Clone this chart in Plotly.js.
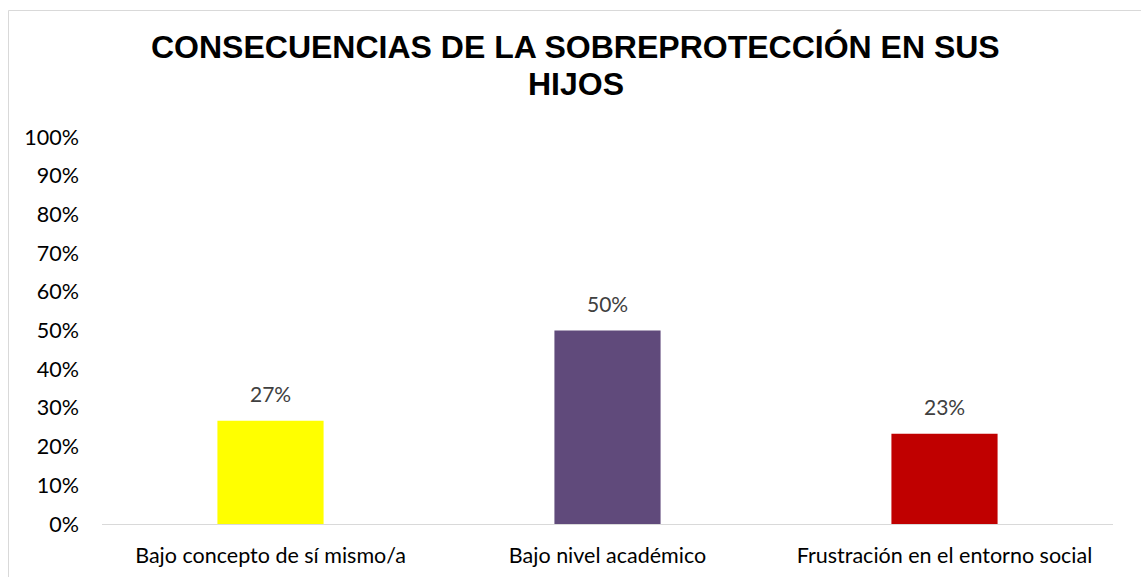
<!DOCTYPE html>
<html>
<head>
<meta charset="utf-8">
<script src="https://cdn.plot.ly/plotly-3.0.1.min.js"></script>
<style>
  html, body { margin: 0; padding: 0; background: #fff; }
  #chart { width: 1141px; height: 577px; }
</style>
</head>
<body>
<div id="chart"></div>
<script>
const categories = ["Bajo concepto de sí mismo/a", "Bajo nivel académico", "Frustración en el entorno social"];
const values = [0.2667, 0.50, 0.2333];
const valueLabels = ["27%", "50%", "23%"];
const barColors = ["#FFFF00", "#604A7B", "#C00000"];
const yTickVals = [0, 0.1, 0.2, 0.3, 0.4, 0.5, 0.6, 0.7, 0.8, 0.9, 1.0];
const yTickText = ["0%", "10%", "20%", "30%", "40%", "50%", "60%", "70%", "80%", "90%", "100%"];
const titleLines = ["CONSECUENCIAS DE LA SOBREPROTECCIÓN EN SUS", "HIJOS"];

const labelFont = "Lato, 'Open Sans', sans-serif";
const titleFont = { family: "'Liberation Sans', Arial, sans-serif", size: 32, color: "#000000", weight: "bold" };

const trace = {
  type: "bar",
  x: categories,
  y: values,
  marker: { color: barColors },
  width: 0.315,
  hoverinfo: "none"
};

const annotations = categories.map((c, i) => ({
  x: c, y: values[i], xref: "x", yref: "y",
  text: valueLabels[i], showarrow: false,
  yanchor: "bottom", yshift: 13,
  font: { family: labelFont, size: 21, color: "#404040" }
}));

const titleTops = [27, 64];
titleLines.forEach((line, i) => {
  annotations.push({
    xref: "paper", yref: "paper",
    x: (575.5 - 102) / 1011, y: (524 - titleTops[i]) / 387,
    xanchor: "center", yanchor: "top",
    text: line, showarrow: false,
    font: titleFont
  });
});

const layout = {
  width: 1141, height: 577,
  margin: { l: 102, r: 28, t: 137, b: 53, pad: 0 },
  paper_bgcolor: "#ffffff",
  plot_bgcolor: "#ffffff",
  showlegend: false,
  xaxis: {
    showgrid: false, zeroline: false,
    showline: true, linecolor: "#d9d9d9", linewidth: 1,
    ticks: "", ticklabelstandoff: 12,
    tickfont: { family: labelFont, size: 21.5, color: "#000000" }
  },
  yaxis: {
    range: [0, 1.0], showgrid: false, zeroline: false, showline: false,
    tickvals: yTickVals, ticktext: yTickText,
    ticks: "", ticklabelstandoff: 22,
    tickfont: { family: labelFont, size: 21.5, color: "#000000" }
  },
  annotations: annotations,
  shapes: [{
    type: "rect", xref: "paper", yref: "paper",
    x0: (8.5 - 102) / 1011, x1: 1.5,
    y0: -1, y1: (524 - 10.5) / 387,
    line: { color: "#d9d9d9", width: 1 }, fillcolor: "rgba(0,0,0,0)", layer: "below"
  }]
};

Plotly.newPlot("chart", [trace], layout, { displayModeBar: false, staticPlot: true });
</script>
</body>
</html>
